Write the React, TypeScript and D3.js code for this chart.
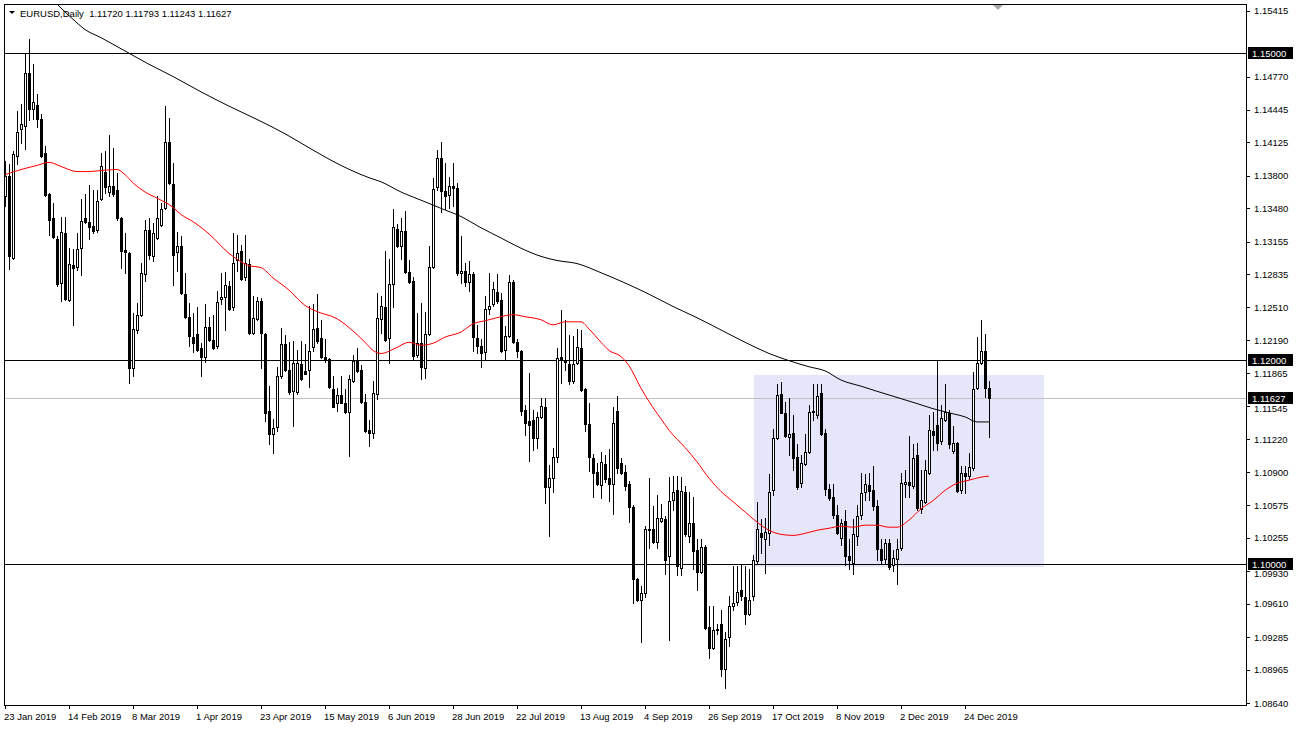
import React from "react";
import * as d3 from "d3";

const W = 1297;
const H = 729;

const titleText = "EURUSD,Daily  1.11720 1.11793 1.11243 1.11627";

const dateLabels = ["23 Jan 2019", "14 Feb 2019", "8 Mar 2019", "1 Apr 2019", "23 Apr 2019", "15 May 2019", "6 Jun 2019", "28 Jun 2019", "22 Jul 2019", "13 Aug 2019", "4 Sep 2019", "26 Sep 2019", "17 Oct 2019", "8 Nov 2019", "2 Dec 2019", "24 Dec 2019"];
const dateLabelBars = [0, 16, 32, 48, 64, 80, 96, 112, 128, 144, 160, 176, 192, 208, 224, 240];

const priceTicks = [1.15415, 1.1477, 1.14445, 1.14125, 1.138, 1.1348, 1.13155, 1.12835, 1.1251, 1.1219, 1.11865, 1.11545, 1.1122, 1.109, 1.10575, 1.10255, 1.0993, 1.0961, 1.09285, 1.08965, 1.0864];

const levelLines = [1.15, 1.12, 1.1];
const bidPrice = 1.11627;

const open = [
  1.1360, 1.1380, 1.1299, 1.1399, 1.1426, 1.1429, 1.1480, 1.1445, 1.1449, 1.1435,
  1.1402, 1.1362, 1.1339, 1.1318, 1.1275, 1.1324, 1.1258, 1.1293, 1.1291, 1.1309,
  1.1339, 1.1335, 1.1331, 1.1327, 1.1357, 1.1384, 1.1364, 1.1370, 1.1366, 1.1339,
  1.1307, 1.1304, 1.1192, 1.1229, 1.1244, 1.1284, 1.1327, 1.1301, 1.1319, 1.1332,
  1.1348, 1.1413, 1.1372, 1.1305, 1.1311, 1.1264, 1.1242, 1.1222, 1.1225, 1.1211,
  1.1203, 1.1232, 1.1219, 1.1213, 1.1259, 1.1261, 1.1272, 1.1251, 1.1297, 1.1306,
  1.1281, 1.1294, 1.1226, 1.1240, 1.1257, 1.1225, 1.1150, 1.1127, 1.1134, 1.1184,
  1.1215, 1.1190, 1.1169, 1.1168, 1.1196, 1.1189, 1.1190, 1.1212, 1.1231, 1.1221,
  1.1203, 1.1201, 1.1171, 1.1158, 1.1165, 1.1158, 1.1149, 1.1179, 1.1200, 1.1190,
  1.1159, 1.1131, 1.1128, 1.1166, 1.1240, 1.1251, 1.1221, 1.1274, 1.1328, 1.1311,
  1.1326, 1.1286, 1.1277, 1.1205, 1.1216, 1.1192, 1.1225, 1.1291, 1.1369, 1.1397,
  1.1365, 1.1361, 1.1370, 1.1368, 1.1285, 1.1287, 1.1276, 1.1284, 1.1221, 1.1213,
  1.1207, 1.1250, 1.1254, 1.1266, 1.1258, 1.1209, 1.1223, 1.1276, 1.1217, 1.1208,
  1.1151, 1.1140, 1.1141, 1.1123, 1.1144, 1.1154, 1.1075, 1.1084, 1.1105, 1.1203,
  1.1200, 1.1196, 1.1179, 1.1197, 1.1211, 1.1171, 1.1137, 1.1104, 1.1090, 1.1077,
  1.1098, 1.1084, 1.1078, 1.1150, 1.1099, 1.1090, 1.1078, 1.1056, 1.0985, 1.0965,
  1.0972, 1.1033, 1.1034, 1.1022, 1.1042, 1.1044, 1.1008, 1.1063, 1.1072, 1.0996,
  1.1070, 1.1027, 1.1040, 1.1014, 1.0992, 1.1017, 1.0938, 1.0918, 1.0935, 1.0941,
  1.0897, 1.0929, 1.0959, 1.0963, 1.0975, 1.0968, 1.0951, 1.0969, 1.1003, 1.1030,
  1.1024, 1.1030, 1.1072, 1.1123, 1.1166, 1.1148, 1.1124, 1.1128, 1.1105, 1.1079,
  1.1098, 1.1110, 1.1149, 1.1146, 1.1167, 1.1128, 1.1073, 1.1066, 1.1048, 1.1025,
  1.1042, 1.1008, 1.1001, 1.1027, 1.1048, 1.1070, 1.1077, 1.1072, 1.1057, 1.1015,
  1.1005, 1.1021, 1.0999, 1.1005, 1.1016, 1.1078, 1.1080, 1.1076, 1.1107, 1.1054,
  1.1061, 1.1089, 1.1130, 1.1136, 1.1120, 1.1141, 1.1148, 1.1111, 1.1118, 1.1072,
  1.1089, 1.1086, 1.1094, 1.1172, 1.1197, 1.1208, 1.11720
];

const high = [
  1.1394, 1.1391, 1.1404, 1.1443, 1.1450, 1.1499, 1.1514, 1.1489, 1.1460, 1.1440,
  1.1409, 1.1363, 1.1353, 1.1321, 1.1340, 1.1340, 1.1309, 1.1308, 1.1324, 1.1357,
  1.1362, 1.1371, 1.1366, 1.1366, 1.1402, 1.1404, 1.1420, 1.1407, 1.1383, 1.1340,
  1.1324, 1.1305, 1.1246, 1.1255, 1.1295, 1.1337, 1.1339, 1.1334, 1.1360, 1.1353,
  1.1448, 1.1436, 1.1392, 1.1325, 1.1321, 1.1285, 1.1255, 1.1246, 1.1251, 1.1216,
  1.1254, 1.1242, 1.1244, 1.1267, 1.1285, 1.1286, 1.1277, 1.1324, 1.1322, 1.1312,
  1.1322, 1.1298, 1.1262, 1.1261, 1.1260, 1.1226, 1.1174, 1.1142, 1.1193, 1.1231,
  1.1224, 1.1217, 1.1218, 1.1209, 1.1218, 1.1215, 1.1252, 1.1254, 1.1264, 1.1239,
  1.1220, 1.1202, 1.1184, 1.1172, 1.1184, 1.1171, 1.1185, 1.1205, 1.1211, 1.1195,
  1.1166, 1.1141, 1.1179, 1.1265, 1.1262, 1.1306, 1.1298, 1.1347, 1.1333, 1.1339,
  1.1345, 1.1297, 1.1281, 1.1246, 1.1255, 1.1247, 1.1311, 1.1378, 1.1405, 1.1413,
  1.1392, 1.1379, 1.1392, 1.1373, 1.1321, 1.1295, 1.1296, 1.1286, 1.1234, 1.1220,
  1.1262, 1.1285, 1.1276, 1.1284, 1.1265, 1.1233, 1.1283, 1.1278, 1.1220, 1.1209,
  1.1156, 1.1187, 1.1151, 1.1149, 1.1162, 1.1162, 1.1097, 1.1114, 1.1211, 1.1249,
  1.1239, 1.1224, 1.1223, 1.1230, 1.1229, 1.1172, 1.1158, 1.1108, 1.1099, 1.1110,
  1.1107, 1.1113, 1.1154, 1.1164, 1.1104, 1.1097, 1.1081, 1.1058, 1.0986, 1.0978,
  1.1037, 1.1084, 1.1057, 1.1068, 1.1059, 1.1047, 1.1085, 1.1086, 1.1086, 1.1085,
  1.1076, 1.1070, 1.1066, 1.1024, 1.1024, 1.1019, 1.0959, 1.0959, 1.0941, 1.0955,
  1.0933, 1.0969, 1.0998, 1.0998, 1.1000, 1.0998, 1.0995, 1.1009, 1.1061, 1.1044,
  1.1045, 1.1088, 1.1132, 1.1176, 1.1178, 1.1159, 1.1162, 1.1146, 1.1117, 1.1107,
  1.1127, 1.1156, 1.1176, 1.1176, 1.1176, 1.1132, 1.1078, 1.1078, 1.1058, 1.1044,
  1.1053, 1.1024, 1.1044, 1.1058, 1.1089, 1.1088, 1.1089, 1.1096, 1.1063, 1.1024,
  1.1024, 1.1024, 1.1014, 1.1024, 1.1089, 1.1092, 1.1125, 1.1117, 1.1118, 1.1092,
  1.1102, 1.1146, 1.1149, 1.1200, 1.1156, 1.1176, 1.1151, 1.1135, 1.1119, 1.1096,
  1.1096, 1.1109, 1.1188, 1.1222, 1.1239, 1.1225, 1.11793
];

const low = [
  1.1350, 1.1289, 1.1298, 1.1391, 1.1412, 1.1406, 1.1434, 1.1435, 1.1428, 1.1398,
  1.1360, 1.1322, 1.1319, 1.1272, 1.1257, 1.1258, 1.1257, 1.1234, 1.1288, 1.1283,
  1.1334, 1.1318, 1.1324, 1.1325, 1.1356, 1.1363, 1.1360, 1.1360, 1.1337, 1.1290,
  1.1285, 1.1177, 1.1184, 1.1226, 1.1243, 1.1277, 1.1298, 1.1296, 1.1318, 1.1331,
  1.1347, 1.1372, 1.1273, 1.1287, 1.1264, 1.1241, 1.1213, 1.1207, 1.1208, 1.1184,
  1.1198, 1.1218, 1.1210, 1.1211, 1.1254, 1.1229, 1.1249, 1.1249, 1.1287, 1.1278,
  1.1278, 1.1225, 1.1225, 1.1239, 1.1192, 1.1140, 1.1117, 1.1109, 1.1130, 1.1182,
  1.1189, 1.1166, 1.1135, 1.1166, 1.1180, 1.1186, 1.1173, 1.1208, 1.1216, 1.1202,
  1.1198, 1.1172, 1.1154, 1.1150, 1.1158, 1.1148, 1.1106, 1.1178, 1.1188, 1.1158,
  1.1129, 1.1115, 1.1123, 1.1161, 1.1226, 1.1218, 1.1197, 1.1251, 1.1310, 1.1298,
  1.1285, 1.1275, 1.1201, 1.1203, 1.1181, 1.1182, 1.1224, 1.1290, 1.1366, 1.1344,
  1.1347, 1.1348, 1.1350, 1.1283, 1.1275, 1.1272, 1.1267, 1.1208, 1.1206, 1.1193,
  1.1200, 1.1245, 1.1252, 1.1255, 1.1207, 1.1200, 1.1222, 1.1216, 1.1203, 1.1146,
  1.1126, 1.1101, 1.1112, 1.1114, 1.1143, 1.1060, 1.1027, 1.1070, 1.1100, 1.1177,
  1.1190, 1.1176, 1.1177, 1.1196, 1.1169, 1.1130, 1.1091, 1.1066, 1.1077, 1.1065,
  1.1080, 1.1062, 1.1049, 1.1089, 1.1088, 1.1072, 1.1041, 1.0962, 1.0964, 1.0924,
  1.0968, 1.1016, 1.1021, 1.1016, 1.1041, 1.0990, 1.0926, 1.1053, 1.0989, 1.0989,
  1.1027, 1.1022, 1.0995, 1.0975, 1.0991, 1.0936, 1.0908, 1.0917, 1.0932, 1.0890,
  1.0879, 1.0920, 1.0955, 1.0960, 1.0965, 1.0941, 1.0950, 1.0965, 1.1000, 1.1011,
  1.0991, 1.1019, 1.1068, 1.1122, 1.1148, 1.1124, 1.1107, 1.1092, 1.1073, 1.1075,
  1.1097, 1.1109, 1.1141, 1.1143, 1.1126, 1.1068, 1.1063, 1.1045, 1.1029, 1.1019,
  1.0999, 1.0995, 1.0990, 1.1019, 1.1044, 1.1063, 1.1063, 1.1053, 1.1004, 1.1001,
  1.1000, 1.0995, 1.0993, 1.0980, 1.1014, 1.1066, 1.1066, 1.1074, 1.1053, 1.1050,
  1.1060, 1.1088, 1.1112, 1.1112, 1.1117, 1.1140, 1.1114, 1.1109, 1.1070, 1.1069,
  1.1069, 1.1083, 1.1092, 1.1171, 1.1196, 1.1163, 1.11243
];

const close = [
  1.1380, 1.1301, 1.1401, 1.1423, 1.1431, 1.1480, 1.1445, 1.1452, 1.1435, 1.1399,
  1.1361, 1.1337, 1.1320, 1.1274, 1.1325, 1.1259, 1.1294, 1.1290, 1.1308, 1.1336,
  1.1335, 1.1330, 1.1326, 1.1355, 1.1389, 1.1369, 1.1370, 1.1362, 1.1339, 1.1306,
  1.1305, 1.1192, 1.1230, 1.1244, 1.1285, 1.1327, 1.1302, 1.1324, 1.1339, 1.1347,
  1.1413, 1.1373, 1.1302, 1.1311, 1.1265, 1.1242, 1.1223, 1.1216, 1.1209, 1.1203,
  1.1232, 1.1219, 1.1211, 1.1256, 1.1261, 1.1273, 1.1250, 1.1295, 1.1304, 1.1279,
  1.1295, 1.1226, 1.1241, 1.1257, 1.1226, 1.1148, 1.1127, 1.1133, 1.1184, 1.1215,
  1.1190, 1.1168, 1.1197, 1.1197, 1.1181, 1.1186, 1.1208, 1.1230, 1.1218, 1.1203,
  1.1200, 1.1173, 1.1154, 1.1165, 1.1158, 1.1149, 1.1181, 1.1199, 1.1189, 1.1159,
  1.1130, 1.1128, 1.1167, 1.1241, 1.1252, 1.1219, 1.1274, 1.1330, 1.1311, 1.1326,
  1.1286, 1.1276, 1.1204, 1.1216, 1.1193, 1.1225, 1.1291, 1.1367, 1.1397, 1.1365,
  1.1360, 1.1370, 1.1368, 1.1285, 1.1287, 1.1276, 1.1284, 1.1222, 1.1213, 1.1206,
  1.1250, 1.1252, 1.1269, 1.1257, 1.1208, 1.1223, 1.1276, 1.1217, 1.1208, 1.1150,
  1.1138, 1.1136, 1.1123, 1.1144, 1.1155, 1.1075, 1.1084, 1.1105, 1.1202, 1.1201,
  1.1198, 1.1179, 1.1196, 1.1212, 1.1170, 1.1137, 1.1105, 1.1089, 1.1078, 1.1100,
  1.1083, 1.1078, 1.1138, 1.1094, 1.1089, 1.1076, 1.1056, 1.0985, 1.0965, 1.0972,
  1.1034, 1.1034, 1.1022, 1.1045, 1.1045, 1.1004, 1.1062, 1.1070, 1.0998, 1.1071,
  1.1029, 1.1040, 1.1013, 1.0992, 1.1017, 1.0937, 1.0918, 1.0935, 1.0936, 1.0897,
  1.0927, 1.0959, 1.0962, 1.0973, 1.0969, 1.0951, 1.0965, 1.1004, 1.1034, 1.1026,
  1.1031, 1.1070, 1.1123, 1.1165, 1.1148, 1.1125, 1.1127, 1.1104, 1.1075, 1.1099,
  1.1110, 1.1149, 1.1150, 1.1164, 1.1127, 1.1073, 1.1065, 1.1048, 1.1030, 1.1040,
  1.1008, 1.1004, 1.1029, 1.1047, 1.1069, 1.1078, 1.1071, 1.1057, 1.1015, 1.1004,
  1.1021, 1.0997, 1.1006, 1.1015, 1.1079, 1.1080, 1.1077, 1.1104, 1.1055, 1.1063,
  1.1092, 1.1131, 1.1126, 1.1118, 1.1143, 1.1149, 1.1117, 1.1118, 1.1071, 1.1089,
  1.1086, 1.1095, 1.1171, 1.1197, 1.1208, 1.1172, 1.11627
];

const redMaBars = [0, 4, 8, 11, 14, 18, 21, 24, 28, 30, 32, 35, 38, 42, 44, 47, 51, 56, 61, 64, 67, 71, 75, 78, 83, 87, 90, 92, 94, 98, 101, 104, 107, 110, 114, 117, 120, 123, 127, 130, 134, 137, 140, 144, 146, 149, 151, 154, 156, 159, 161, 164, 166, 170, 173, 176, 179, 182, 185, 188, 191, 194, 197, 200, 203, 206, 209, 212, 215, 218, 221, 223, 226, 229, 232, 235, 238, 241, 244, 246];
const redMaValues = [1.1381, 1.1386, 1.1390, 1.1393, 1.1389, 1.1384, 1.1384, 1.1385, 1.1386, 1.1381, 1.1373, 1.1364, 1.1358, 1.1349, 1.1342, 1.1335, 1.1323, 1.1304, 1.1292, 1.1290, 1.1280, 1.1268, 1.1253, 1.1247, 1.1240, 1.1228, 1.1217, 1.1209, 1.1206, 1.1212, 1.1217, 1.1214, 1.1216, 1.1222, 1.1227, 1.1235, 1.1238, 1.1241, 1.1244, 1.1242, 1.1239, 1.1234, 1.1237, 1.1237, 1.1230, 1.1217, 1.1209, 1.1203, 1.1194, 1.1172, 1.1159, 1.1142, 1.1131, 1.1114, 1.1100, 1.1084, 1.1071, 1.1061, 1.1051, 1.1041, 1.1033, 1.1029, 1.1028, 1.1030, 1.1033, 1.1035, 1.1037, 1.1036, 1.1038, 1.1038, 1.1036, 1.1036, 1.1043, 1.1054, 1.1062, 1.1072, 1.1079, 1.1082, 1.1085, 1.1086];

const blackMaBars = [11, 13, 14, 17, 20, 24, 30, 36, 42, 49, 56, 63, 70, 77, 84, 91, 94, 99, 104, 109, 114, 119, 124, 129, 134, 138, 143, 149, 155, 161, 167, 173, 179, 185, 191, 196, 201, 205, 209, 214, 218, 223, 228, 232, 237, 240, 243, 246];
const blackMaValues = [1.1559, 1.1548, 1.1544, 1.1533, 1.1523, 1.1515, 1.1502, 1.1489, 1.1477, 1.1462, 1.1448, 1.1435, 1.1421, 1.1405, 1.1390, 1.1378, 1.1374, 1.1364, 1.1356, 1.1348, 1.1340, 1.1329, 1.1319, 1.1309, 1.1301, 1.1297, 1.1294, 1.1285, 1.1275, 1.1264, 1.1252, 1.1241, 1.1229, 1.1217, 1.1206, 1.1199, 1.1193, 1.1189, 1.1180, 1.1174, 1.1169, 1.1163, 1.1157, 1.1152, 1.1147, 1.1144, 1.1139, 1.1139];

const zoneFromBar = 187.25;
const zoneToBar = 259.75;
const zoneTop = 1.1185;
const zoneBottom = 1.0997;

const FONT = "'Liberation Sans', Arial, sans-serif";

export default function App() {
  const plot = { left: 4, top: 4, right: 1246, bottom: 705 };
  const x = d3.scaleLinear().domain([0, 246]).range([5, 989]);
  const y = d3.scaleLinear().domain([1.0864, 1.15415]).range([703.0, 10.6]);

  const redLine = d3
    .line<number>()
    .x((_, k) => x(redMaBars[k]))
    .y((v) => y(v))
    .curve(d3.curveMonotoneX)(redMaValues);
  const blackLine = d3
    .line<number>()
    .x((_, k) => x(blackMaBars[k]))
    .y((v) => y(v))
    .curve(d3.curveMonotoneX)(blackMaValues);

  const candles = open.map((o, i) => {
    const c = close[i];
    const hi = Math.max(high[i], o, c);
    const lo = Math.min(low[i], o, c);
    const cx = Math.round(x(i));
    const wTop = Math.round(y(hi));
    const wBot = Math.round(y(lo));
    const bTop = Math.round(y(Math.max(o, c)));
    const bBot = Math.round(y(Math.min(o, c)));
    const bull = c >= o;
    return (
      <g key={i}>
        <line x1={cx + 0.5} x2={cx + 0.5} y1={wTop} y2={wBot + 1} stroke="#000" strokeWidth={1} />
        {bull ? (
          bBot - bTop >= 1 ? (
            <rect x={cx - 0.5} y={bTop + 0.5} width={2} height={bBot - bTop} fill="#fff" stroke="#000" strokeWidth={1} />
          ) : (
            <line x1={cx - 1} x2={cx + 2} y1={bTop + 0.5} y2={bTop + 0.5} stroke="#000" strokeWidth={1} />
          )
        ) : (
          <rect x={cx - 1} y={bTop} width={3} height={Math.max(1, bBot - bTop + 1)} fill="#000" />
        )}
      </g>
    );
  });

  // plain axis labels hidden where a highlighted box sits on them (as the terminal does)
  const boxedPrices = [...levelLines, bidPrice];
  const plainTicks = priceTicks.filter((p) => boxedPrices.every((b) => Math.abs(y(p) - y(b)) >= 11));
  const partlyHidden = priceTicks.filter((p) => !plainTicks.includes(p));

  const boxLabel = (p: number, text: string, key: string) => {
    const yy = Math.round(y(p));
    return (
      <g key={key}>
        <rect x={1248} y={yy - 6} width={45} height={12} fill="#000" />
        <text x={1252} y={yy + 3.5} fontSize={9.5} fill="#fff" fontFamily={FONT}>
          {text}
        </text>
      </g>
    );
  };

  return (
    <svg
      width={W}
      height={H}
      viewBox={`0 0 ${W} ${H}`}
      style={{ position: "absolute", left: 0, top: 0, display: "block", background: "#fff" }}
    >
      <defs>
        <clipPath id="plotClip">
          <rect x={plot.left + 1} y={plot.top + 1} width={plot.right - plot.left - 1} height={plot.bottom - plot.top - 1} />
        </clipPath>
      </defs>
      <rect x={0} y={0} width={W} height={H} fill="#fff" />

      <g clipPath="url(#plotClip)" shapeRendering="crispEdges">
        <rect
          x={x(zoneFromBar)}
          y={y(zoneTop)}
          width={x(zoneToBar) - x(zoneFromBar)}
          height={y(zoneBottom) - y(zoneTop)}
          fill="#e6e6fa"
        />
        {levelLines.map((p) => (
          <line key={p} x1={plot.left} x2={plot.right} y1={Math.round(y(p)) + 0.5} y2={Math.round(y(p)) + 0.5} stroke="#000" strokeWidth={1} />
        ))}
        <line x1={plot.left} x2={plot.right} y1={Math.round(y(bidPrice)) + 0.5} y2={Math.round(y(bidPrice)) + 0.5} stroke="#c0c0c0" strokeWidth={1} />
        {candles}
      </g>
      <g clipPath="url(#plotClip)">
        <path d={blackLine || ""} fill="none" stroke="#000" strokeWidth={1} />
        <path d={redLine || ""} fill="none" stroke="#ff0000" strokeWidth={1} />
      </g>

      {/* frame */}
      <g shapeRendering="crispEdges">
        <rect x={plot.left + 0.5} y={plot.top + 0.5} width={plot.right - plot.left} height={plot.bottom - plot.top} fill="none" stroke="#000" strokeWidth={1} />
        {priceTicks.map((p) => (
          <line key={"t" + p} x1={plot.right} x2={plot.right + 4} y1={Math.round(y(p)) + 0.5} y2={Math.round(y(p)) + 0.5} stroke="#000" />
        ))}
        {dateLabelBars.map((b) => (
          <line key={"d" + b} x1={Math.round(x(b)) + 0.5} x2={Math.round(x(b)) + 0.5} y1={plot.bottom} y2={plot.bottom + 4} stroke="#000" />
        ))}
      </g>

      {/* price labels */}
      {plainTicks.map((p) => (
        <text key={"l" + p} x={1254} y={y(p) + 3.5} fontSize={9.5} fill="#000" fontFamily={FONT}>
          {p.toFixed(5)}
        </text>
      ))}
      {partlyHidden.map((p) => (
        <text key={"h" + p} x={1254} y={y(p) + 6} fontSize={9.5} fill="#000" fontFamily={FONT}>
          {p.toFixed(5)}
        </text>
      ))}
      {levelLines.map((p) => boxLabel(p, p.toFixed(5), "b" + p))}
      {boxLabel(bidPrice, bidPrice.toFixed(5), "bid")}

      {/* date labels */}
      {dateLabels.map((t, k) => (
        <text key={t} x={x(dateLabelBars[k]) - 1} y={720} fontSize={9.5} fill="#000" fontFamily={FONT}>
          {t}
        </text>
      ))}

      {/* title */}
      <polygon points="9,11 15,11 12,14" fill="#000" />
      <text x={20} y={17} fontSize={9.5} fill="#000" fontFamily={FONT} style={{ whiteSpace: "pre" }}>
        {titleText}
      </text>

      {/* chart shift marker */}
      <polygon points="993,5 1003,5 998,10" fill="#a8a8a8" />
    </svg>
  );
}
